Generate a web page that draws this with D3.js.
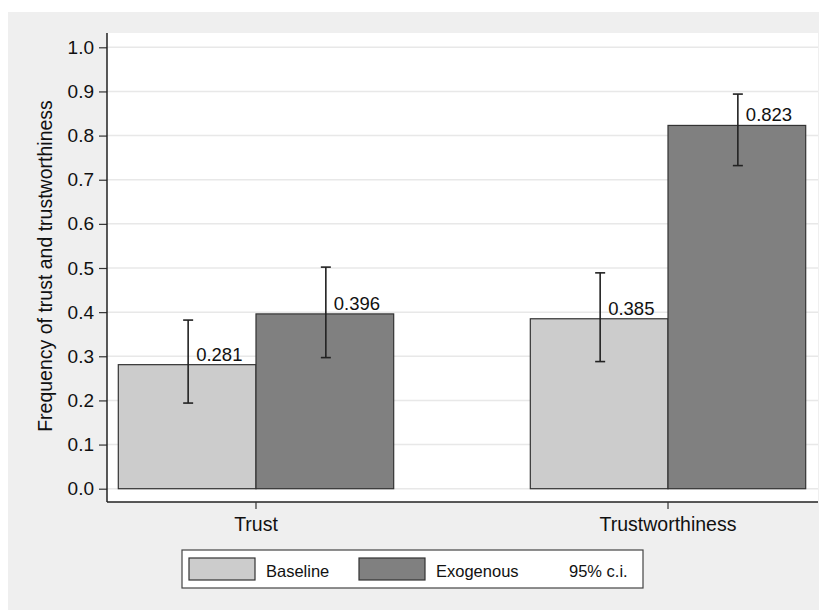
<!DOCTYPE html>
<html>
<head>
<meta charset="utf-8">
<script src="https://cdn.jsdelivr.net/npm/d3@7"></script>
<style>
  body { margin: 0; background: #fff; }
  text { font-family: "Liberation Sans", Arial, Helvetica, sans-serif; fill: #111; }
</style>
</head>
<body>
<div id="chart"></div>
<script>
// data
var categories = ["Trust", "Trustworthiness"];
var seriesNames = ["Baseline", "Exogenous"];
var baseline = [0.281, 0.385];
var exogenous = [0.396, 0.823];
var baselineLo = [0.194, 0.288];
var baselineHi = [0.382, 0.489];
var exogenousLo = [0.297, 0.732];
var exogenousHi = [0.502, 0.894];
var yTicks = [0.0, 0.1, 0.2, 0.3, 0.4, 0.5, 0.6, 0.7, 0.8, 0.9, 1.0];

var W = 827, H = 610;
var fills = ["#cccccc", "#808080"];

var svg = d3.select("#chart").append("svg")
    .attr("width", W)
    .attr("height", H);

// outer graph region
svg.append("rect")
    .attr("x", 8).attr("y", 12)
    .attr("width", 811).attr("height", 598)
    .attr("fill", "#efefef");

// plot region
var plot = {left: 107, top: 33, right: 818, bottom: 502};
svg.append("rect")
    .attr("x", plot.left).attr("y", plot.top)
    .attr("width", plot.right - plot.left).attr("height", plot.bottom - plot.top)
    .attr("fill", "#fff");

var y = d3.scaleLinear().domain([0, 1]).range([488.7, 47.3]);

// x: groups and bars within group
var x0 = d3.scaleBand().domain(categories).range([118.3, 805.7]).paddingInner(0.3316).paddingOuter(0);
var x1 = d3.scaleBand().domain(seriesNames).range([0, x0.bandwidth()]);

// gridlines
svg.append("g").selectAll("line")
    .data(yTicks)
    .join("line")
    .attr("x1", plot.left).attr("x2", plot.right)
    .attr("y1", function(d) { return y(d); })
    .attr("y2", function(d) { return y(d); })
    .attr("stroke", "#e8e8e8")
    .attr("stroke-width", 1.5);

// bars
var rows = categories.map(function(c, i) {
  return [
    {cat: c, s: seriesNames[0], v: baseline[i], lo: baselineLo[i], hi: baselineHi[i], k: 0},
    {cat: c, s: seriesNames[1], v: exogenous[i], lo: exogenousLo[i], hi: exogenousHi[i], k: 1}
  ];
});
var flat = [].concat.apply([], rows);

svg.append("g").selectAll("rect")
    .data(flat)
    .join("rect")
    .attr("x", function(d) { return x0(d.cat) + x1(d.s); })
    .attr("y", function(d) { return y(d.v); })
    .attr("width", x1.bandwidth())
    .attr("height", function(d) { return y(0) - y(d.v); })
    .attr("fill", function(d) { return fills[d.k]; })
    .attr("stroke", "#333")
    .attr("stroke-width", 1.2);

// error bars
var eb = svg.append("g").attr("stroke", "#222").attr("stroke-width", 1.6);
flat.forEach(function(d) {
  var cx = x0(d.cat) + x1(d.s) + x1.bandwidth() / 2 + 1;
  eb.append("line").attr("x1", cx).attr("x2", cx).attr("y1", y(d.hi)).attr("y2", y(d.lo));
  eb.append("line").attr("x1", cx - 5).attr("x2", cx + 5).attr("y1", y(d.hi)).attr("y2", y(d.hi));
  eb.append("line").attr("x1", cx - 5).attr("x2", cx + 5).attr("y1", y(d.lo)).attr("y2", y(d.lo));
});

// value labels
svg.append("g").selectAll("text")
    .data(flat)
    .join("text")
    .attr("x", function(d) { return x0(d.cat) + x1(d.s) + x1.bandwidth() / 2 + 9; })
    .attr("y", function(d) { return y(d.v) - 4; })
    .attr("font-size", 18.5)
    .text(function(d) { return d3.format(".3f")(d.v); });

// y axis
var yAxis = d3.axisLeft(y).tickValues(yTicks).tickFormat(d3.format(".1f")).tickSizeOuter(0).tickSize(8).tickPadding(5);
var gy = svg.append("g").attr("transform", "translate(" + plot.left + ",0)").call(yAxis);
gy.attr("font-size", null).attr("font-family", null);
gy.select(".domain").remove();
gy.selectAll(".tick line").attr("stroke", "#333").attr("stroke-width", 1.2);
gy.selectAll(".tick text").attr("font-size", 19).attr("fill", "#111");
svg.append("line")
    .attr("x1", plot.left).attr("x2", plot.left)
    .attr("y1", plot.top).attr("y2", plot.bottom)
    .attr("stroke", "#222").attr("stroke-width", 1.5);

// x axis
svg.append("line")
    .attr("x1", plot.left).attr("x2", plot.right)
    .attr("y1", plot.bottom).attr("y2", plot.bottom)
    .attr("stroke", "#222").attr("stroke-width", 1.5);
var xg = svg.append("g");
categories.forEach(function(c) {
  var cx = x0(c) + x0.bandwidth() / 2;
  xg.append("line").attr("x1", cx).attr("x2", cx).attr("y1", plot.bottom).attr("y2", plot.bottom + 7)
    .attr("stroke", "#333").attr("stroke-width", 1.2);
  xg.append("text").attr("x", cx).attr("y", 531).attr("text-anchor", "middle")
    .attr("font-size", 19.5).text(c);
});

// y title
svg.append("text")
    .attr("transform", "translate(52,266) rotate(-90)")
    .attr("text-anchor", "middle")
    .attr("font-size", 19.5)
    .text("Frequency of trust and trustworthiness");

// legend
var lg = svg.append("g");
lg.append("rect").attr("x", 182).attr("y", 550).attr("width", 461).attr("height", 38)
    .attr("fill", "#fff").attr("stroke", "#444").attr("stroke-width", 1.2);
var legendX = [189, 359];
seriesNames.forEach(function(s, i) {
  lg.append("rect").attr("x", legendX[i]).attr("y", 558).attr("width", 66).attr("height", 22)
    .attr("fill", fills[i]).attr("stroke", "#333").attr("stroke-width", 1.2);
  lg.append("text").attr("x", legendX[i] + 77).attr("y", 577).attr("font-size", 16.5).text(s);
});
lg.append("text").attr("x", 569).attr("y", 577).attr("font-size", 16.5).text("95% c.i.");
</script>
</body>
</html>
